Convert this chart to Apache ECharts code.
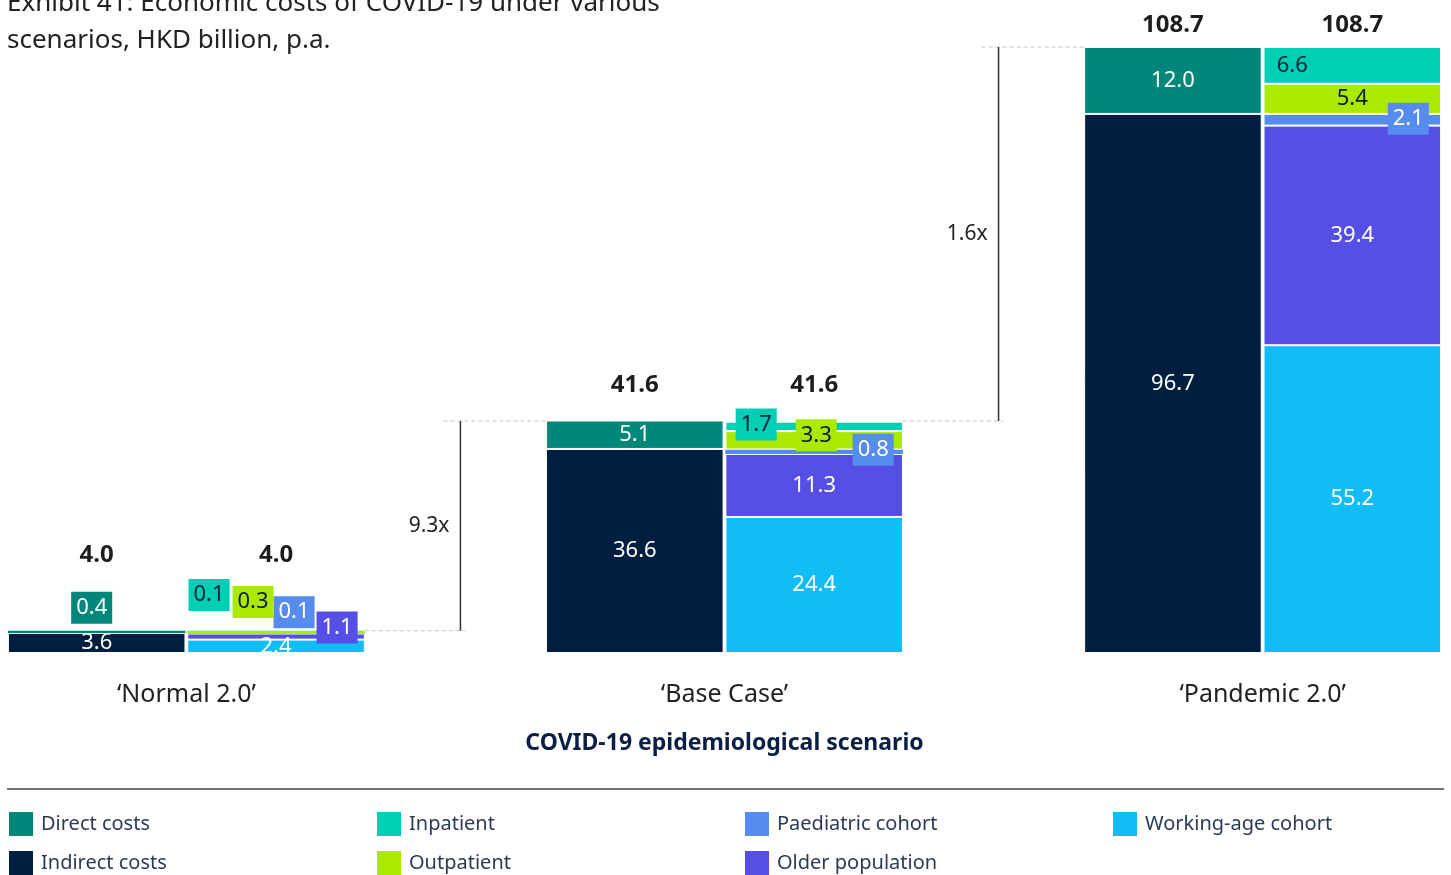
<!DOCTYPE html>
<html>
<head>
<meta charset="utf-8">
<script src="https://cdn.jsdelivr.net/npm/echarts@6/dist/echarts.min.js"></script>
<style>
  html, body { margin: 0; padding: 0; background: #ffffff; }
  #chart { width: 1451px; height: 875px; }
</style>
</head>
<body>
<div id="chart"></div>
<script>
// Bar slots along the x axis: each scenario gets a bar split into direct / indirect
// costs, then a bar split by cohort; an empty slot separates the scenarios.
const slots = ['normal-total', 'normal-split', 'gap-1', 'base-total', 'base-split', 'gap-2', 'pandemic-total', 'pandemic-split'];
const scenarioNames = ['‘Normal 2.0’', '‘Base Case’', '‘Pandemic 2.0’'];

// HKD billion, p.a.
const directCosts   = [0.4, null, null, 5.1,  null, null, 12.0, null];
const indirectCosts = [3.6, null, null, 36.6, null, null, 96.7, null];
const workingAge    = [null, 2.4, null, null, 24.4, null, null, 55.2];
const olderPop      = [null, 1.1, null, null, 11.3, null, null, 39.4];
const paediatric    = [null, 0.1, null, null, 0.8,  null, null, 2.1];
const outpatient    = [null, 0.3, null, null, 3.3,  null, null, 5.4];
const inpatient     = [null, 0.1, null, null, 1.7,  null, null, 6.6];
const totals        = [4.0, 4.0, null, 41.6, 41.6, null, 108.7, 108.7];
const multipliers   = ['9.3x', '1.6x'];

const FONT = "'Noto Sans', sans-serif";
const NAVY_TEXT = '#0b1f3a';

// Stack order, bottom to top
const seriesDefs = [
  { name: 'Indirect costs',     data: indirectCosts, color: '#001e40', text: '#ffffff' },
  { name: 'Direct costs',       data: directCosts,   color: '#00877a', text: '#ffffff' },
  { name: 'Working-age cohort', data: workingAge,    color: '#10bdf7', text: '#ffffff' },
  { name: 'Older population',   data: olderPop,      color: '#554fe6', text: '#ffffff' },
  { name: 'Paediatric cohort',  data: paediatric,    color: '#558cee', text: '#ffffff' },
  { name: 'Outpatient',         data: outpatient,    color: '#abe900', text: NAVY_TEXT },
  { name: 'Inpatient',          data: inpatient,     color: '#00cfb5', text: NAVY_TEXT }
];

// Thin segments get their value in a coloured tag moved off the segment: [dx, dy] in px
const tagOffsets = {
  'Direct costs':      { 0: [-5, -24] },
  'Inpatient':         { 1: [-67, -36], 4: [-58, -2] },
  'Outpatient':        { 1: [-23, -30], 4: [2, -5] },
  'Paediatric cohort': { 1: [18, -21], 4: [59, -2], 7: [56, -1] },
  'Older population':  { 1: [61, -9] }
};
// Labels that stay on their segment but sit off-centre
const labelShifts = {
  'Inpatient': { 7: [-60, 0] }
};
// Gap between a bar top and its total label, per scenario
const totalLift = { normal: 64, base: 24, pandemic: 10 };

// Legend grid: [row, column] of each entry
const legendCells = {
  'Direct costs': [0, 0], 'Inpatient': [0, 1], 'Paediatric cohort': [0, 2], 'Working-age cohort': [0, 3],
  'Indirect costs': [1, 0], 'Outpatient': [1, 1], 'Older population': [1, 2]
};

const fmt = v => (v == null ? '' : Number(v).toFixed(1));

const barSeries = seriesDefs.map(def => ({
  name: def.name,
  type: 'bar',
  stack: 'cost',
  barWidth: '99%',
  z: 2,
  itemStyle: { color: def.color, borderColor: '#ffffff', borderWidth: 1 },
  label: {
    show: true,
    position: 'inside',
    formatter: p => fmt(p.value),
    color: def.text,
    fontFamily: FONT,
    fontSize: 22,
    lineHeight: 26
  },
  emphasis: { disabled: true },
  data: def.data.map((v, i) => {
    if (v == null) return null;
    const item = { value: v };
    if (v < 1) item.itemStyle = { borderWidth: 0 };
    const tag = tagOffsets[def.name] && tagOffsets[def.name][i];
    if (tag) item.label = { offset: tag, backgroundColor: def.color, padding: [3, 5] };
    const shift = labelShifts[def.name] && labelShifts[def.name][i];
    if (shift) item.label = { offset: shift };
    return item;
  })
}));

const totalSeries = {
  name: 'Total',
  type: 'scatter',
  symbolSize: 0.01,
  silent: true,
  itemStyle: { color: 'transparent', opacity: 1 },
  z: 5,
  data: totals.map((v, i) => v == null ? null : ({
    value: v,
    label: { distance: totalLift[slots[i].split('-')[0]] }
  })),
  label: {
    show: true,
    position: 'top',
    formatter: p => fmt(p.value),
    color: '#1d1d1d',
    opacity: 1,
    fontFamily: FONT,
    fontSize: 24,
    fontWeight: 'bold'
  }
};

const legends = Object.keys(legendCells).map(name => ({
  orient: 'horizontal',
  left: 9 + legendCells[name][1] * 368,
  top: 812 + legendCells[name][0] * 39,
  padding: 0,
  icon: 'rect',
  itemWidth: 24,
  itemHeight: 24,
  itemStyle: { borderWidth: 0 },
  selectedMode: false,
  data: [name],
  textStyle: { fontFamily: FONT, fontSize: 20, color: '#2b3b57', padding: [0, 0, 0, 3] }
}));

const option = {
  animation: false,
  backgroundColor: '#ffffff',
  title: {
    text: 'Exhibit 41: Economic costs of COVID-19 under various\nscenarios, HKD billion, p.a.',
    left: 2,
    top: -20,
    textStyle: { fontFamily: FONT, fontSize: 26, fontWeight: 'normal', color: '#222222', lineHeight: 37 }
  },
  legend: legends,
  grid: { left: 7, right: 9, top: 47, bottom: 222, containLabel: false },
  xAxis: {
    type: 'category',
    data: slots,
    axisLine: { show: false },
    axisTick: { show: false },
    axisLabel: { show: false },
    splitLine: { show: false },
    name: 'COVID-19 epidemiological scenario',
    nameLocation: 'middle',
    nameGap: 79,
    nameTextStyle: { fontFamily: FONT, fontSize: 23, fontWeight: 'bold', color: '#0b1f44' }
  },
  yAxis: {
    type: 'value',
    min: 0,
    max: 108.7,
    show: false,
    splitLine: { show: false }
  },
  series: barSeries.concat([totalSeries])
};

const chart = echarts.init(document.getElementById('chart'));
chart.setOption(option);

// Annotations placed through the chart's own coordinate system
const px = (slot, v) => chart.convertToPixel({ gridIndex: 0 }, [slot, v]);
const band = px(1, 0)[0] - px(0, 0)[0];
const half = band * 0.99 / 2;
const baseY = px(0, 0)[1];
const graphics = [];

scenarioNames.forEach((name, k) => {
  const cx = (px(3 * k, 0)[0] + px(3 * k + 1, 0)[0]) / 2;
  graphics.push({
    type: 'text', x: cx, y: baseY + 42,
    style: { text: name, fontFamily: FONT, fontSize: 25, fill: '#222222', align: 'center', verticalAlign: 'middle' }
  });
});

const dashStyle = { stroke: '#c4c4c4', lineWidth: 1, lineDash: [4, 3] };
multipliers.forEach((m, k) => {
  const g = 3 * k + 2;                  // empty slot between two scenarios
  const xv = px(g, 0)[0] + 5;
  const yLow = px(g, totals[g - 1])[1];
  const yHigh = px(g, totals[g + 1])[1];
  const leftEdge = px(g - 1, 0)[0] + half;
  const rightEdge = px(g + 1, 0)[0] - half;
  graphics.push(
    { type: 'line', shape: { x1: leftEdge, y1: yLow, x2: xv + 5, y2: yLow }, style: dashStyle, silent: true },
    { type: 'line', shape: { x1: xv - 17, y1: yHigh, x2: rightEdge, y2: yHigh }, style: dashStyle, silent: true },
    { type: 'line', shape: { x1: xv, y1: yLow, x2: xv, y2: yHigh }, style: { stroke: '#333333', lineWidth: 1.5 }, silent: true },
    { type: 'text', x: xv - 11, y: (yLow + yHigh) / 2,
      style: { text: m, fontFamily: FONT, fontSize: 21, fill: '#222222', align: 'right', verticalAlign: 'middle' } }
  );
});

// Rule above the legend
graphics.push({ type: 'line', shape: { x1: 7, y1: 789, x2: 1444, y2: 789 }, style: { stroke: '#444444', lineWidth: 1.5 }, silent: true });

chart.setOption({ graphic: graphics });
</script>
</body>
</html>
